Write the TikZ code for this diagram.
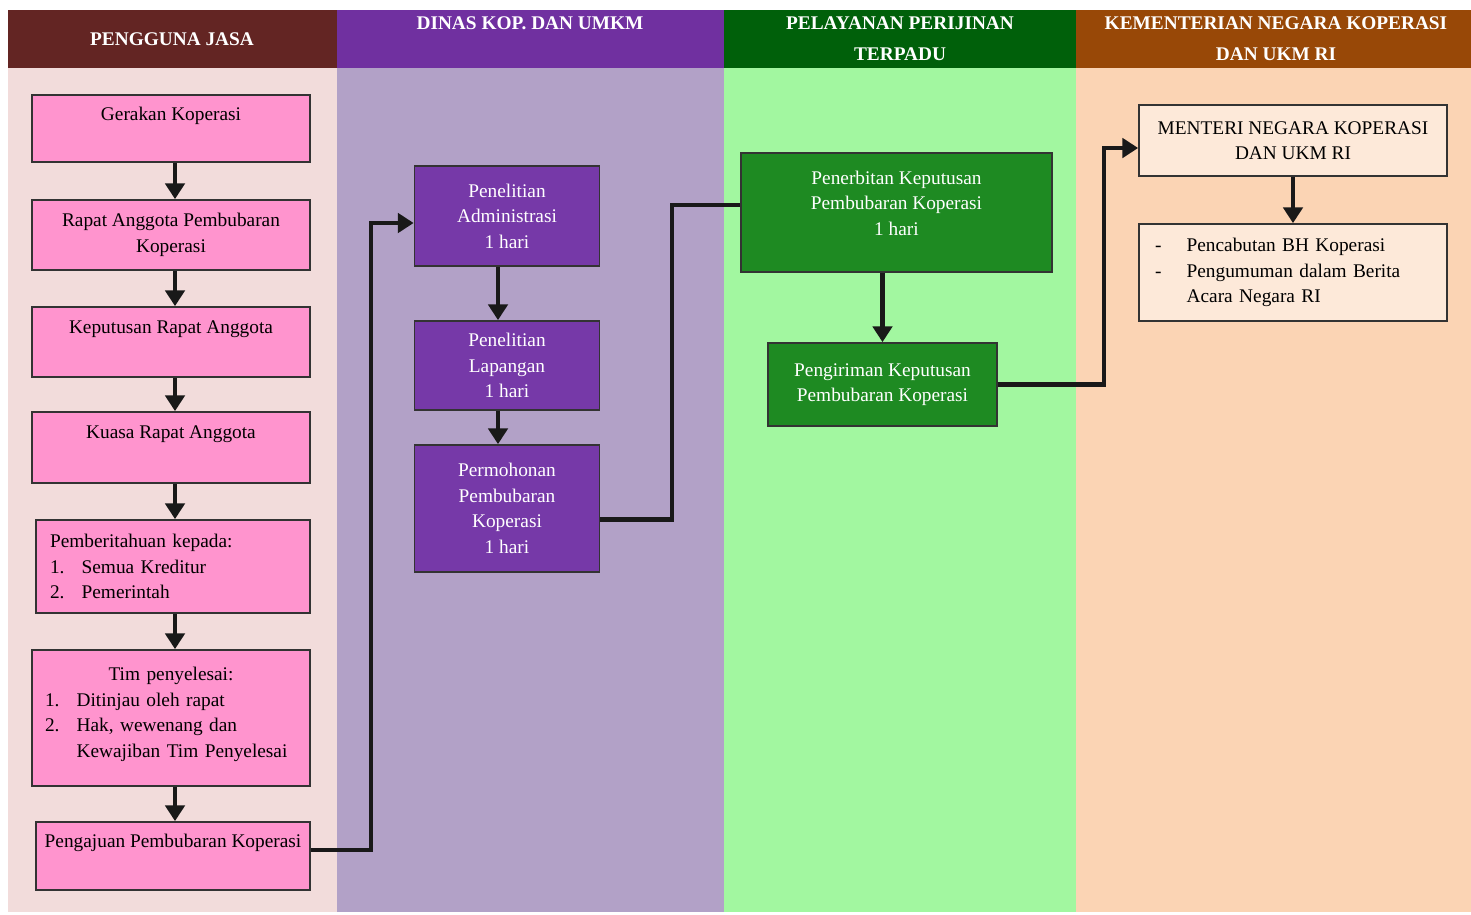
\documentclass[tikz,border=0pt]{standalone}
\usepackage{fontspec}
\setmainfont{Liberation Serif}
\usetikzlibrary{positioning, arrows.meta}

\definecolor{headA}{HTML}{632523}
\definecolor{headB}{HTML}{7030A0}
\definecolor{headC}{HTML}{00600A}
\definecolor{headD}{HTML}{984807}
\definecolor{bodyA}{HTML}{F2DCDB}
\definecolor{bodyB}{HTML}{B2A1C7}
\definecolor{bodyC}{HTML}{A2F7A0}
\definecolor{bodyD}{HTML}{FBD4B4}
\definecolor{pinkfill}{HTML}{FF94CE}
\definecolor{purplefill}{HTML}{7639A8}
\definecolor{greenfill}{HTML}{1E8A22}
\definecolor{peachfill}{HTML}{FDE9D9}

\newcommand{\itm}[2]{\makebox[18pt][l]{#1}#2}

\begin{document}
\begin{tikzpicture}[
    x=0.02cm, y=-0.02cm,
    >={Triangle[width=11pt,length=9pt]},
    box/.style={draw=black!80, line width=1pt, inner sep=2pt, align=center,
        font=\fontsize{11}{14.5}\selectfont},
    pinkbox/.style={box, fill=pinkfill, text=black},
    purplebox/.style={box, fill=purplefill, text=white, minimum width=3.7cm},
    greenbox/.style={box, fill=greenfill, text=white},
    peachbox/.style={box, fill=peachfill, text=black, minimum width=6.16cm},
    toptext/.style={text depth=17pt},
    head/.style={text=white, align=center, font=\bfseries\fontsize{11}{17.6}\selectfont},
    flow/.style={->, line width=2.4pt, draw=black!90},
    link/.style={line width=2.4pt, draw=black!90}
]
\useasboundingbox (0,0) rectangle (1471,914);

% Column heads
\fill[headA] (8,10) rectangle (337,68);
\fill[headB] (337,10) rectangle (724,68);
\fill[headC] (724,10) rectangle (1076,68);
\fill[headD] (1076,10) rectangle (1471,68);

% Column bodies
\fill[bodyA] (8,68) rectangle (337,912);
\fill[bodyB] (337,68) rectangle (724,912);
\fill[bodyC] (724,68) rectangle (1076,912);
\fill[bodyD] (1076,68) rectangle (1471,912);

\node[head] (hA) at (172,39) {PENGGUNA JASA};
\node[head] (hB) at (530,23) {DINAS KOP. DAN UMKM};
\node[head] (hC) at (900,39) {PELAYANAN PERIJINAN\\TERPADU};
\node[head] (hD) at (1276,39) {KEMENTERIAN NEGARA KOPERASI\\DAN UKM RI};

% Pengguna jasa
\coordinate (axisA) at (175,0);
\node[pinkbox, toptext, minimum width=5.56cm, minimum height=1.34cm] (gerakan) at (171,128.5) {Gerakan Koperasi};
\node[pinkbox, minimum width=5.56cm, minimum height=1.4cm] (rapat) at (171,235) {Rapat Anggota Pembubaran\\Koperasi};
\node[pinkbox, toptext, minimum width=5.56cm, minimum height=1.4cm] (keputusan) at (171,342) {Keputusan Rapat Anggota};
\node[pinkbox, toptext, minimum width=5.56cm, minimum height=1.42cm] (kuasa) at (171,447.5) {Kuasa Rapat Anggota};
\node[pinkbox, align=left, inner xsep=0.28cm, text width=4.92cm, minimum height=1.86cm] (pemberitahuan) at (173,566.5)
    {Pemberitahuan kepada:\\ \itm{1.}{Semua Kreditur}\\ \itm{2.}{Pemerintah}};
\node[pinkbox, align=left, inner xsep=0.26cm, text width=5.04cm, minimum height=2.72cm] (tim) at (171,718)
    {\makebox[\linewidth][c]{Tim penyelesai:}\\ \itm{1.}{Ditinjau oleh rapat}\\ \itm{2.}{Hak, wewenang dan}\\ \hspace*{18pt}Kewajiban Tim Penyelesai\\[-8pt]\mbox{}};
\node[pinkbox, toptext, minimum width=5.48cm, minimum height=1.36cm] (pengajuan) at (173,856) {Pengajuan Pembubaran Koperasi};

\draw[flow] (gerakan.south -| axisA) -- (rapat.north -| axisA);
\draw[flow] (rapat.south -| axisA) -- (keputusan.north -| axisA);
\draw[flow] (keputusan.south -| axisA) -- (kuasa.north -| axisA);
\draw[flow] (kuasa.south -| axisA) -- (pemberitahuan.north -| axisA);
\draw[flow] (pemberitahuan.south -| axisA) -- (tim.north -| axisA);
\draw[flow] (tim.south -| axisA) -- (pengajuan.north -| axisA);

% Dinas
\node[purplebox, minimum height=2.0cm] (admin) at (507,216) {Penelitian\\Administrasi\\1 hari};
\node[purplebox, minimum height=1.78cm] (lapangan) at (507,365.5) {Penelitian\\Lapangan\\1 hari};
\node[purplebox, minimum height=2.54cm] (permohonan) at (507,508.5) {Permohonan\\Pembubaran\\Koperasi\\1 hari};

\draw[flow] ([xshift=-0.18cm]admin.south) -- ([xshift=-0.18cm]lapangan.north);
\draw[flow] ([xshift=-0.18cm]lapangan.south) -- ([xshift=-0.18cm]permohonan.north);
\draw[flow] ([yshift=0.12cm]pengajuan.east) -- ++(60,0) |- ([yshift=-0.14cm]admin.west);

% Perijinan terpadu
\node[greenbox, minimum width=6.22cm, minimum height=2.38cm] (penerbitan) at (896.5,212.5) {Penerbitan Keputusan\\Pembubaran Koperasi\\1 hari\\[-4pt]\mbox{}};
\node[greenbox, minimum width=4.58cm, minimum height=1.66cm] (pengiriman) at (882.5,384.5) {Pengiriman Keputusan\\Pembubaran Koperasi};

\draw[link] ([yshift=-0.22cm]permohonan.east) -- ++(72,0) |- ([yshift=0.15cm]penerbitan.west);
\draw[flow] (penerbitan.south -| pengiriman.north) -- (pengiriman.north);

% Kementerian
\node[peachbox, minimum height=1.42cm] (menteri) at (1293,140.5) {MENTERI NEGARA KOPERASI\\DAN UKM RI};
\node[peachbox, align=left, inner xsep=0.32cm, text width=5.52cm, minimum height=1.94cm] (pencabutan) at (1293,272.5)
    {\itm{-}{Pencabutan BH Koperasi}\\ \itm{-}{Pengumuman dalam Berita}\\ \hspace*{18pt}Acara Negara RI};

\draw[flow] (pengiriman.east) -- ++(106,0) |- ([yshift=-0.15cm]menteri.west);
\draw[flow] (menteri) -- (pencabutan);

\end{tikzpicture}
\end{document}
